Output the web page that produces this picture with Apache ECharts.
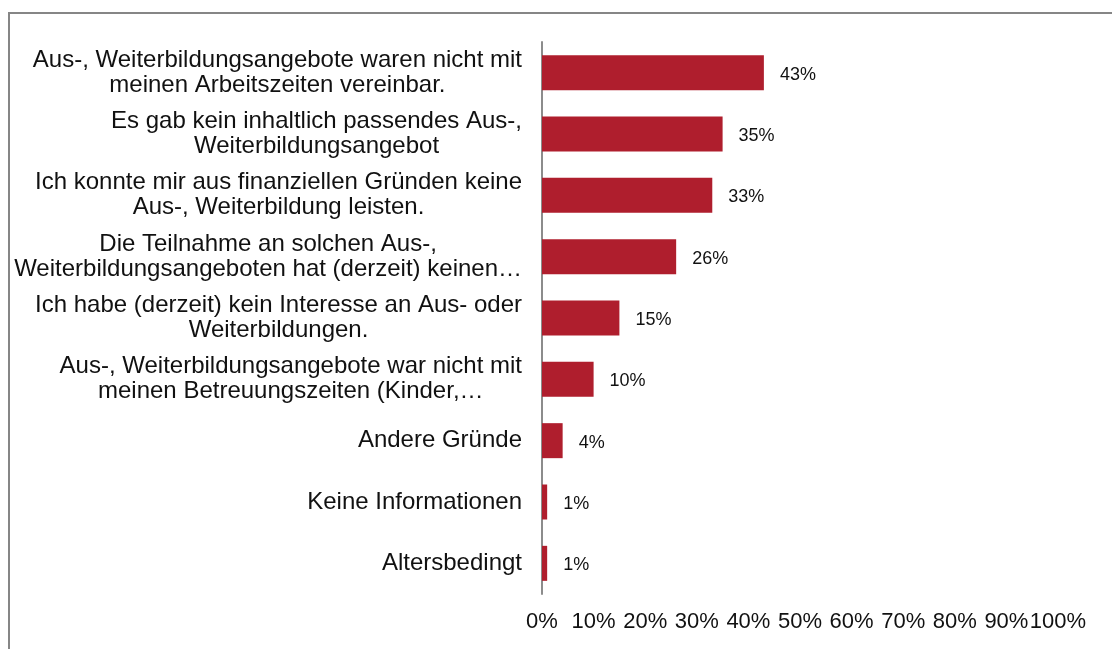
<!DOCTYPE html>
<html>
<head>
<meta charset="utf-8">
<title>Gründe</title>
<script src="https://cdn.jsdelivr.net/npm/echarts@6/dist/echarts.min.js"></script>
<style>
html,body{margin:0;padding:0;background:#fff;}
#chart{width:1112px;height:649px;}
</style>
</head>
<body>
<div id="chart"></div>
<script>
// Kategorien (von oben nach unten)
var categories = [
    "Aus-, Weiterbildungsangebote waren nicht mit\nmeinen Arbeitszeiten vereinbar.",
    "Es gab kein inhaltlich passendes Aus-,\nWeiterbildungsangebot",
    "Ich konnte mir aus finanziellen Gründen keine\nAus-, Weiterbildung leisten.",
    "Die Teilnahme an solchen Aus-,\nWeiterbildungsangeboten hat (derzeit) keinen…",
    "Ich habe (derzeit) kein Interesse an Aus- oder\nWeiterbildungen.",
    "Aus-, Weiterbildungsangebote war nicht mit\nmeinen Betreuungszeiten (Kinder,…",
    "Andere Gründe",
    "Keine Informationen",
    "Altersbedingt"
];
var values = [43, 35, 33, 26, 15, 10, 4, 1, 1];
var axisMin = 0, axisMax = 100, axisStep = 10;

var FONT = '"Liberation Sans", Arial, sans-serif';
var myChart = echarts.init(document.getElementById('chart'));

myChart.setOption({
    animation: false,
    textStyle: {fontFamily: FONT},
    // Rahmen
    graphic: [{
        type: 'rect',
        shape: {x: 9, y: 13, width: 1300, height: 800},
        style: {fill: 'none', stroke: '#868686', lineWidth: 2},
        silent: true
    }],
    grid: {left: 542, right: 54, top: 42, bottom: 55},
    xAxis: {
        type: 'value',
        min: axisMin,
        max: axisMax,
        interval: axisStep,
        axisLine: {show: false},
        axisTick: {show: false},
        splitLine: {show: false},
        axisLabel: {
            formatter: '{value}%',
            fontSize: 22,
            color: '#111',
            fontFamily: FONT,
            margin: 17
        }
    },
    yAxis: {
        type: 'category',
        inverse: true,
        data: categories,
        axisLine: {show: true, lineStyle: {color: '#8c8c8c', width: 2}},
        axisTick: {show: false},
        axisLabel: {
            margin: 20,
            align: 'right',
            formatter: function (val) {
                return val.split('\n').map(function (l) {
                    return '{c|' + l + '}';
                }).join('\n');
            },
            rich: {
                c: {
                    align: 'center',
                    fontSize: 24,
                    lineHeight: 25,
                    color: '#111',
                    fontFamily: FONT
                }
            }
        }
    },
    series: [{
        type: 'bar',
        data: values,
        barWidth: 35,
        itemStyle: {color: '#AF1E2D'},
        label: {
            show: true,
            position: 'right',
            distance: 16,
            offset: [0, 2],
            formatter: '{c}%',
            fontSize: 18,
            color: '#111',
            fontFamily: FONT
        }
    }]
});
</script>
</body>
</html>
